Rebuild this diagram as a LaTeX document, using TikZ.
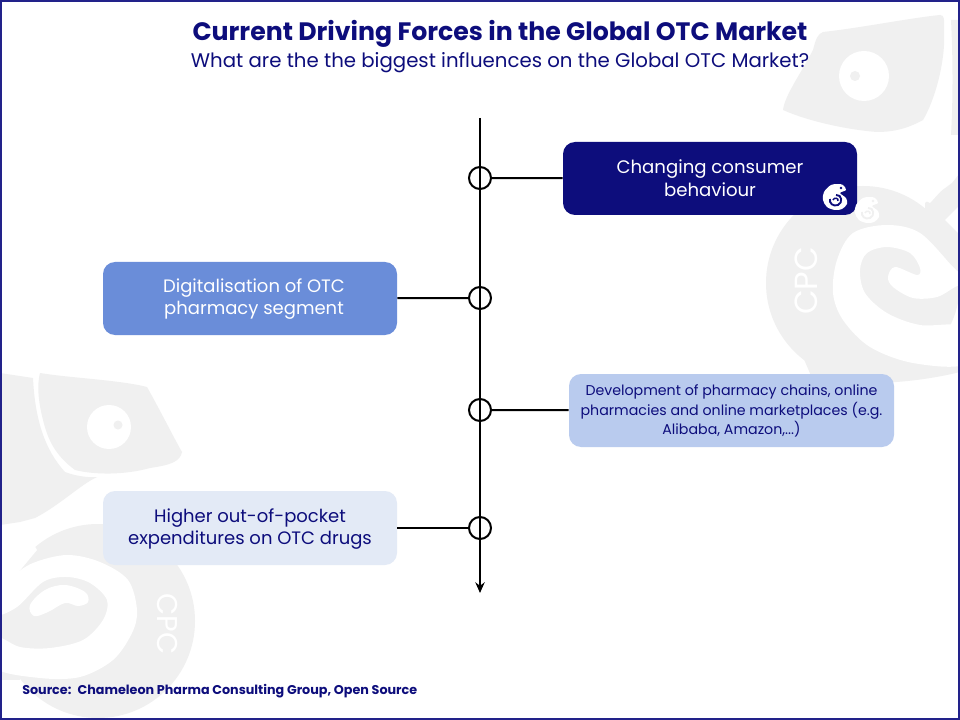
\documentclass[tikz,border=0pt]{standalone}
\usepackage{fontspec}
\setmainfont{Poppins}
\usetikzlibrary{arrows.meta}
\definecolor{navy}{HTML}{0D0D7C}
\definecolor{frameblue}{HTML}{22228A}
\definecolor{wm}{HTML}{F0F0F0}
\definecolor{boxa}{HTML}{0D0D7C}
\definecolor{boxb}{HTML}{6A8DD9}
\definecolor{boxc}{HTML}{B9CBEE}
\definecolor{boxd}{HTML}{E3EAF6}
\tikzset{
  x=0.75pt,y=-0.75pt,
  card/.style={rounded corners=9pt,inner sep=0pt,align=center},
  axisline/.style={line width=1.5pt,black},
  link/.style={line width=1.5pt,black},
  ring/.style={circle,draw=black,line width=1.5pt,minimum size=16.5pt,inner sep=0pt},
  pics/minilogo/.style={code={
    \fill[white] plot[smooth cycle,tension=.55] coordinates {(-4,-12) (3,-13) (8,-12) (11,-7) (5,-4) (11,1) (12,7) (7,12) (0,13) (-8,10) (-12,3) (-11,-5)};
    \fill[#1] (6,-9) circle (1.3);
    \draw[#1,line width=1.4pt] (1,-2) .. controls (7,-3) and (8,6) .. (3,8) .. controls (-2,10) and (-6,6) .. (-5,2);
    \draw[#1,line width=1.1pt] (-2,3) .. controls (-1,0) and (4,1) .. (3,4);
  }}
}
\begin{document}
\begin{tikzpicture}
\useasboundingbox (0,0) rectangle (960,720);
\fill[white] (0,0) rectangle (960,720);
\begin{scope}
\clip (0,0) rectangle (960,720);
% --- watermark top right
\fill[wm] (823,32) .. controls (860,28) and (910,18) .. (940,15) .. controls (945,15) and (944,20) .. (944,30)
  .. controls (946,60) and (935,100) .. (923,120) .. controls (905,130) and (890,132) .. (877,132)
  .. controls (850,130) and (810,122) .. (783,110) .. controls (785,95) and (800,75) .. (813,50) .. controls (816,38) and (818,34) .. (823,32) -- cycle;
\fill[white] (864,76) circle (25);
\fill[wm] (855,76) circle (5);
\fill[wm] (951,20) -- (960,20) -- (960,135) -- (951,135) .. controls (953,100) and (953,60) .. (951,20) -- cycle;
\fill[wm] (863,283) circle (97);
\fill[wm] (952,183) -- (960,173) -- (960,300) -- (925,300) -- (925,203) -- cycle;
\fill[wm] (800,350) -- (960,340) -- (960,372) .. controls (920,382) and (860,388) .. (812,378) -- cycle;
\fill[white] (877,132) .. controls (900,140) and (920,165) .. (950,181) -- (930,203) .. controls (915,195) and (895,185) .. (860,185) -- (840,150) -- cycle;
\fill[white] (945,220) -- (960,205) -- (960,235) -- cycle;
% spiral white band
\fill[white] plot[smooth cycle,tension=.55] coordinates {
  (965,364) (913,363) (870,347) (843,320) (833,293) (837,260) (853,233) (887,225) (920,233) (953,267) (965,278)
  (965,283) (955,287) (937,297) (913,298) (893,287) (888,277) (895,267) (917,275) (920,268) (910,253) (887,247) (867,253) (860,270) (865,293) (887,313) (920,325) (965,327)};
% --- watermark bottom left
\fill[wm] (40,373) .. controls (70,378) and (120,380) .. (147,387) .. controls (160,410) and (175,440) .. (182,452)
  .. controls (180,462) and (170,465) .. (150,468) .. controls (125,475) and (95,475) .. (75,470)
  .. controls (55,455) and (48,440) .. (43,420) .. controls (38,400) and (37,385) .. (40,373) -- cycle;
\fill[white] (109,427) circle (22);
\fill[wm] (118,425) circle (4.5);
\fill[wm] (0,373) -- (33,378) .. controls (35,420) and (45,450) .. (65,472) .. controls (75,476) and (90,478) .. (97,477)
  .. controls (80,485) and (60,505) .. (35,518) -- (20,522) -- (0,525) -- cycle;
\fill[wm] (98,621) circle (97);
\fill[wm] (0,590) rectangle (20,680);
\fill[white] (0,528) -- (22,523) -- (37,550) -- (12,580) -- (0,568) -- cycle;
\fill[white] plot[smooth cycle,tension=.55] coordinates {
  (-5,668) (40,678) (80,677) (113,660) (132,633) (137,610) (128,580) (100,562) (67,555) (33,563) (10,578) (-5,592)
  (-5,615) (17,607) (43,582) (67,577) (90,583) (107,600) (103,620) (83,640) (50,648) (20,647) (-5,637)};
\fill[white] plot[smooth cycle,tension=.6] coordinates {(30,605) (45,590) (65,585) (85,592) (88,602) (78,606) (65,603) (48,612) (34,616)};
\end{scope}
\node[white,rotate=90,font=\fontsize{24pt}{24pt}\selectfont] (cpca) at (806,281) {CPC};
\node[white,rotate=-90,font=\fontsize{21.5pt}{22pt}\selectfont] (cpcb) at (168,624) {CPC};
% frame
\draw[frameblue,line width=1.5pt] (1,1) rectangle (959,719);
% title
\node[navy,font=\fontsize{18.9pt}{22pt}\selectfont\bfseries] (title) at (500,34) {Current Driving Forces in the Global OTC Market};
\node[navy,font=\fontsize{14.8pt}{20pt}\selectfont] (sub) at (500,62.5) {What are the the biggest influences on the Global OTC Market?};
% boxes
\node[card,fill=boxa,text=white,minimum width=220.5pt,minimum height=54.75pt] (b1) at (710,178.5) {};
\node[card,fill=boxb,text=white,minimum width=220.5pt,minimum height=54.75pt] (b2) at (250,298.5) {};
\node[card,fill=boxc,text=navy,minimum width=243.75pt,minimum height=54.75pt] (b3) at (731.5,410.5) {};
\node[card,fill=boxd,text=navy,minimum width=220.5pt,minimum height=55.5pt] (b4) at (250,528) {};
\node[white,align=center,font=\fontsize{13.6pt}{17pt}\selectfont] (t1) at (710,178.5) {Changing consumer\\behaviour};
\node[white,align=center,font=\fontsize{13.5pt}{17pt}\selectfont] (t2) at (254,299) {Digitalisation of OTC\\pharmacy segment};
\node[navy,align=center,font=\fontsize{10.65pt}{14.5pt}\selectfont] (t3) at (731.5,411) {Development of pharmacy chains, online\\pharmacies and online marketplaces (e.g.\\Alibaba, Amazon,...)};
\node[navy,align=center,font=\fontsize{13.5pt}{17pt}\selectfont] (t4) at (250,529) {Higher out-of-pocket\\expenditures on OTC drugs};
% logos
\pic at (835,197) {minilogo=boxa};
\pic at (867,210) {minilogo=wm};
% axis
\coordinate (top) at (480,118);
\coordinate (bot) at (480,593);
\draw[axisline,-{Stealth[length=8pt,width=7pt]}] (top) -- (bot);
\node[ring] (r1) at (480,178) {};
\node[ring] (r2) at (480,298) {};
\node[ring] (r3) at (480,410) {};
\node[ring] (r4) at (480,528) {};
\draw[link] (r1) -- (b1);
\draw[link] (r2) -- (b2);
\draw[link] (r3) -- (b3);
\draw[link] (r4) -- (b4);
% source
\node[navy,anchor=west,inner sep=0pt,font=\fontsize{9.55pt}{12pt}\selectfont\bfseries] (src) at (22,691) {Source:~ Chameleon Pharma Consulting Group, Open Source};
\end{tikzpicture}
\end{document}
